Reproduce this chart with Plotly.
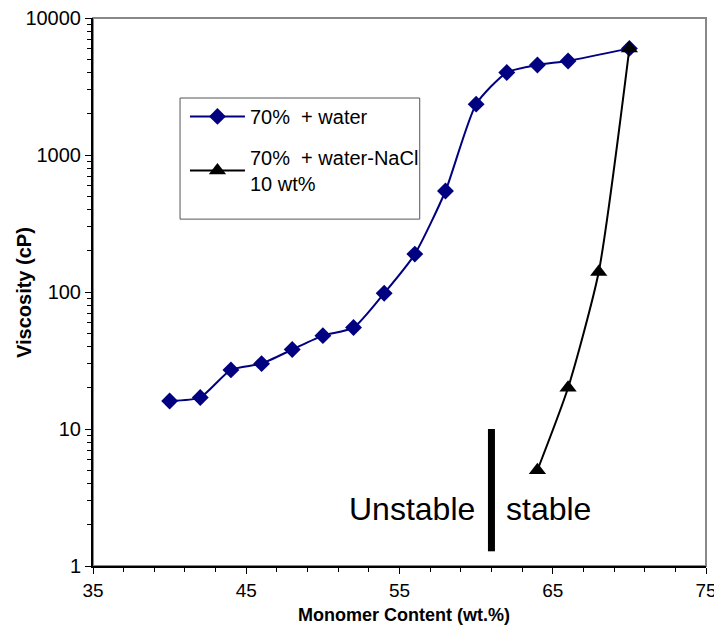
import plotly.graph_objects as go

# Data
water_x = [40, 42, 44, 46, 48, 50, 52, 54, 56, 58, 60, 62, 64, 66, 70]
water_y = [16, 17, 27, 30, 38, 48, 55, 98, 189, 546, 2350, 4000, 4540, 4860, 6000]
nacl_x = [64, 66, 68, 70]
nacl_y = [5, 20, 140, 6000]
divider_x = [61, 61]
divider_y = [1.28, 10]
y_ticks = [1, 10, 100, 1000, 10000]
y_ticklabels = ["1", "10", "100", "1000", "10000"]
y_minor = [m * d for d in [1, 10, 100, 1000] for m in range(2, 10)]

FONT = "Arial, Liberation Sans"

fig = go.Figure()
fig.add_trace(go.Scatter(
    x=water_x, y=water_y, mode="lines+markers", name="70%  + water", legendgroup="a",
    line=dict(color="#000080", width=2, shape="spline", smoothing=0.6),
    marker=dict(symbol="diamond", size=13, color="#000080"),
))
fig.add_trace(go.Scatter(
    x=nacl_x, y=nacl_y, mode="lines+markers", name="70%  + water-NaCl<br>10 wt%", legendgroup="b",
    line=dict(color="black", width=2, shape="spline", smoothing=0.6),
    marker=dict(symbol="triangle-up", size=15, color="black"),
))
fig.add_trace(go.Scatter(
    x=divider_x, y=divider_y, mode="lines", showlegend=False, hoverinfo="skip",
    line=dict(color="black", width=7),
))

fig.add_annotation(x=60.05, y=0.416, xref="x", yref="y", text="Unstable", showarrow=False,
                   xanchor="right", font=dict(size=32, color="black", family=FONT))
fig.add_annotation(x=61.85, y=0.416, xref="x", yref="y", text="stable", showarrow=False,
                   xanchor="left", font=dict(size=32, color="black", family=FONT))

# axis titles
fig.add_annotation(x=0.507, y=-0.090, xref="paper", yref="paper", text="<b>Monomer Content (wt.%)</b>",
                   showarrow=False, xanchor="center", yanchor="middle",
                   font=dict(size=18, color="black", family=FONT))
fig.add_annotation(x=-0.1126, y=0.5, xref="paper", yref="paper", text="<b>Viscosity (cP)</b>",
                   showarrow=False, textangle=-90, xanchor="center", yanchor="middle",
                   font=dict(size=20, color="black", family=FONT))

# gray frame top/right
fig.add_shape(type="rect", xref="paper", yref="paper", x0=0, y0=0, x1=1, y1=1,
              line=dict(color="#888888", width=2), layer="below")
# legend frame
fig.add_shape(type="rect", xref="paper", yref="paper", x0=0.142, y0=0.633, x1=0.533, y1=0.854,
              line=dict(color="#555555", width=1), fillcolor="white", layer="below")

fig.update_layout(
    width=712, height=622,
    margin=dict(l=85, r=14, t=10, b=64),
    plot_bgcolor="white", paper_bgcolor="white",
    font=dict(family=FONT, size=20, color="black"),
    legend=dict(x=0.150, y=0.856, xanchor="left", yanchor="top",
                borderwidth=0, bgcolor="rgba(0,0,0,0)",
                font=dict(size=20), tracegroupgap=12, itemwidth=55,
                traceorder="grouped"),
    xaxis=dict(range=[35, 75], tick0=35, dtick=10, ticks="outside", ticklen=6,
               tickcolor="black", showline=True, linecolor="black", linewidth=2,
               showgrid=False, zeroline=False, automargin=False, ticklabeloverflow="allow",
               tickfont=dict(size=19),
               minor=dict(ticks="outside", ticklen=4, dtick=2, tick0=35, tickcolor="black", showgrid=False)),
    yaxis=dict(type="log", range=[0, 4], tickvals=y_ticks, ticktext=y_ticklabels,
               ticks="outside", ticklen=6, tickfont=dict(size=20),
               tickcolor="black", showline=True, linecolor="black", linewidth=2,
               showgrid=False, zeroline=False, automargin=False, ticklabeloverflow="allow",
               minor=dict(ticks="outside", ticklen=4, tickvals=y_minor, tickcolor="black", showgrid=False)),
)

fig.write_html("out.html")
